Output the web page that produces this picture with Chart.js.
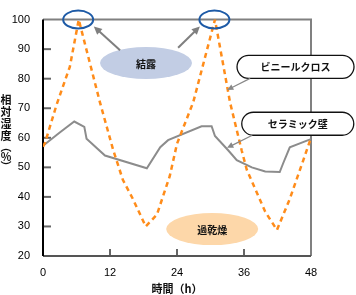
<!DOCTYPE html>
<html><head><meta charset="utf-8">
<script src="https://cdn.jsdelivr.net/npm/chart.js@4/dist/chart.umd.min.js"></script>
<style>html,body{margin:0;padding:0;background:#fff}#wrap{width:356px;height:295px}</style>
</head><body><div id="wrap"><canvas id="c" width="356" height="295"></canvas></div>
<script>
// ---- data ----
const vinylHours  = [0, 0.4, 2.4, 4.8, 6.4, 10.2, 12.6, 14.3, 16.1, 18.4, 20.4, 22.7, 24, 26.9, 30.8, 33.5, 35.6, 36.5, 39.8, 41.9, 44.2, 46.6, 48];
const vinylValues = [57, 58.5, 71, 84, 100, 72, 55.7, 45.8, 39.3, 30, 34, 47, 58, 72, 100, 72, 55.6, 49.2, 35, 28.8, 39.3, 52.3, 60];
const wallHours   = [0, 3, 5.6, 7.4, 7.8, 11.1, 18.6, 21, 22.4, 28.4, 30.2, 30.8, 33.2, 34.7, 37.4, 39.8, 42.4, 43, 44.2, 47.5, 48];
const wallValues  = [57.3, 61.8, 65.5, 63.7, 59.7, 54, 49.7, 56.8, 59.2, 63.9, 63.9, 60.6, 55.7, 52.4, 50, 48.6, 48.4, 51.3, 56.8, 59.2, 59.5];
const xTicks = [0, 12, 24, 36, 48];
const yTicks = [20, 30, 40, 50, 60, 70, 80, 90, 100];
const yTitleChars = ['相','対','湿','度','︵','%','︶'];
const xTitle = '時間（h）';
const labelVinyl = 'ビニールクロス';
const labelWall = 'セラミック壁';
const labelDew = '結露';
const labelDry = '過乾燥';

const toPts = (h, v) => h.map((x, i) => ({x, y: v[i]}));

const CJK = '"Noto Sans CJK JP", "Noto Sans", sans-serif';
const NUM = '"Liberation Sans Narrow", "Liberation Sans", Arial, sans-serif';

function ellipse(ctx, cx, cy, rx, ry, fill, stroke, lw) {
  ctx.beginPath(); ctx.ellipse(cx, cy, rx, ry, 0, 0, Math.PI * 2);
  if (fill) { ctx.fillStyle = fill; ctx.fill(); }
  if (stroke) { ctx.lineWidth = lw; ctx.strokeStyle = stroke; ctx.stroke(); }
}
function arrow(ctx, x1, y1, x2, y2, color, lw, head) {
  const a = Math.atan2(y2 - y1, x2 - x1);
  ctx.strokeStyle = color; ctx.fillStyle = color; ctx.lineWidth = lw;
  ctx.beginPath(); ctx.moveTo(x1, y1);
  ctx.lineTo(x2 - Math.cos(a) * head * 0.8, y2 - Math.sin(a) * head * 0.8); ctx.stroke();
  ctx.beginPath(); ctx.moveTo(x2, y2);
  ctx.lineTo(x2 - head * Math.cos(a - 0.45), y2 - head * Math.sin(a - 0.45));
  ctx.lineTo(x2 - head * Math.cos(a + 0.45), y2 - head * Math.sin(a + 0.45));
  ctx.closePath(); ctx.fill();
}
function pill(ctx, x, y, w, h, text) {
  const r = h / 2;
  ctx.beginPath();
  ctx.moveTo(x + r, y); ctx.lineTo(x + w - r, y);
  ctx.arc(x + w - r, y + r, r, -Math.PI / 2, Math.PI / 2);
  ctx.lineTo(x + r, y + h);
  ctx.arc(x + r, y + r, r, Math.PI / 2, Math.PI * 1.5);
  ctx.closePath();
  ctx.fillStyle = '#fff'; ctx.fill();
  ctx.lineWidth = 1.3; ctx.strokeStyle = '#111'; ctx.stroke();
  ctx.fillStyle = '#111'; ctx.font = 'bold 10px ' + CJK;
  ctx.textAlign = 'center'; ctx.textBaseline = 'middle';
  ctx.fillText(text, x + w / 2, y + h / 2 + 0.5);
}

const deco = {
  id: 'deco',
  beforeDatasetsDraw(chart) {
    const ctx = chart.ctx, xs = chart.scales.x, ys = chart.scales.y;
    const P = (h, v) => [xs.getPixelForValue(h), ys.getPixelForValue(v)];
    ctx.save();
    // inner ticks
    ctx.strokeStyle = '#666'; ctx.lineWidth = 2;
    yTicks.slice(1, -1).forEach(v => {
      const y = ys.getPixelForValue(v);
      ctx.beginPath(); ctx.moveTo(xs.left, y); ctx.lineTo(xs.left + 8, y); ctx.stroke();
    });
    ctx.strokeStyle = '#333'; ctx.lineWidth = 1.5;
    xTicks.slice(1, -1).forEach(h => {
      const x = xs.getPixelForValue(h);
      ctx.beginPath(); ctx.moveTo(x, ys.bottom); ctx.lineTo(x, ys.bottom - 7); ctx.stroke();
    });
    // frame
    const L = xs.left, R = xs.right, T = ys.top, B = ys.bottom;
    ctx.lineWidth = 2;
    ctx.strokeStyle = '#808080';
    ctx.beginPath(); ctx.moveTo(L, T); ctx.lineTo(R, T); ctx.lineTo(R, B); ctx.stroke();
    ctx.strokeStyle = '#555';
    ctx.beginPath(); ctx.moveTo(L, B); ctx.lineTo(R, B); ctx.stroke();
    ctx.strokeStyle = '#000';
    ctx.beginPath(); ctx.moveTo(L, T); ctx.lineTo(L, B); ctx.stroke();
    // filled annotation ellipses
    let [cx, cy] = P(18.45, 85.3);
    ellipse(ctx, cx, cy, 46, 16, '#c2cde4');
    [cx, cy] = P(30.3, 29.1);
    ellipse(ctx, cx, cy, 46, 16, '#fdd7a9');
    ctx.restore();
  },
  afterDatasetsDraw(chart) {
    const ctx = chart.ctx, xs = chart.scales.x, ys = chart.scales.y;
    const P = (h, v) => [xs.getPixelForValue(h), ys.getPixelForValue(v)];
    ctx.save();
    // dew circles at peaks
    [[6.3, 100], [30.7, 100]].forEach(([h, v]) => {
      const [x, y] = P(h, v);
      ellipse(ctx, x, y, 15, 9, null, '#1d5aa6', 2);
    });
    // arrows from dew ellipse
    let a = P(13.8, 89.6), b = P(9.1, 97.7);
    arrow(ctx, a[0], a[1], b[0], b[1], '#7f7f7f', 2, 9);
    a = P(24.2, 90.5); b = P(28.1, 97.7);
    arrow(ctx, a[0], a[1], b[0], b[1], '#7f7f7f', 2, 9);
    // labels in ellipses
    ctx.fillStyle = '#111'; ctx.font = 'bold 10px ' + CJK;
    ctx.textAlign = 'center'; ctx.textBaseline = 'middle';
    let [tx, ty] = P(18.45, 85.3); ctx.fillText(labelDew, tx, ty + 1);
    [tx, ty] = P(30.3, 29.1); ctx.fillText(labelDry, tx, ty + 1);
    // callout pills
    let [px, py] = P(34.75, 87.9); pill(ctx, px, py, 117, 23, labelVinyl);
    a = P(37.1, 80.1); b = P(32.96, 76.2);
    arrow(ctx, a[0], a[1], b[0], b[1], '#888', 1.2, 7);
    [px, py] = P(35.6, 68.65); pill(ctx, px, py, 112, 23, labelWall);
    a = P(37.4, 60.8); b = P(32.96, 56.6);
    arrow(ctx, a[0], a[1], b[0], b[1], '#888', 1.2, 7);
    // axis titles
    ctx.fillStyle = '#111'; ctx.font = 'bold 11px ' + CJK;
    ctx.textAlign = 'center'; ctx.textBaseline = 'middle';
    const ys0 = [100, 112, 124, 136, 147, 157, 167];
    yTitleChars.forEach((ch, i) => ctx.fillText(ch, 6, ys0[i]));
    ctx.fillText(xTitle, (xs.left + xs.right) / 2 + 0, 289);
    ctx.restore();
  }
};

new Chart(document.getElementById('c'), {
  type: 'line',
  data: {
    datasets: [
      { label: labelVinyl, data: toPts(vinylHours, vinylValues), borderColor: '#ff8c1a', borderWidth: 2.5, borderDash: [5, 4], pointRadius: 0, tension: 0, fill: false },
      { label: labelWall, data: toPts(wallHours, wallValues), borderColor: '#8c8c8c', borderWidth: 2, pointRadius: 0, tension: 0, fill: false }
    ]
  },
  options: {
    responsive: false, animation: false, devicePixelRatio: 1,
    layout: { padding: { top: 11, right: 45, left: 0, bottom: 0 } },
    plugins: { legend: { display: false }, tooltip: { enabled: false } },
    scales: {
      x: {
        type: 'linear', min: 0, max: 48,
        afterBuildTicks: s => { s.ticks = xTicks.map(v => ({ value: v })); },
        afterFit: s => { s.height = 39; },
        grid: { display: false, drawTicks: false, tickLength: 0 }, border: { display: false },
        ticks: { color: '#000', padding: 10, maxRotation: 0, font: { family: NUM, size: 11 } }
      },
      y: {
        min: 20, max: 100,
        afterBuildTicks: s => { s.ticks = yTicks.map(v => ({ value: v })); },
        afterFit: s => { s.width = 43; },
        grid: { display: false, drawTicks: false, tickLength: 0 }, border: { display: false },
        ticks: { color: '#000', padding: 13, font: { family: NUM, size: 11 } }
      }
    }
  },
  plugins: [deco]
});
</script></body></html>
